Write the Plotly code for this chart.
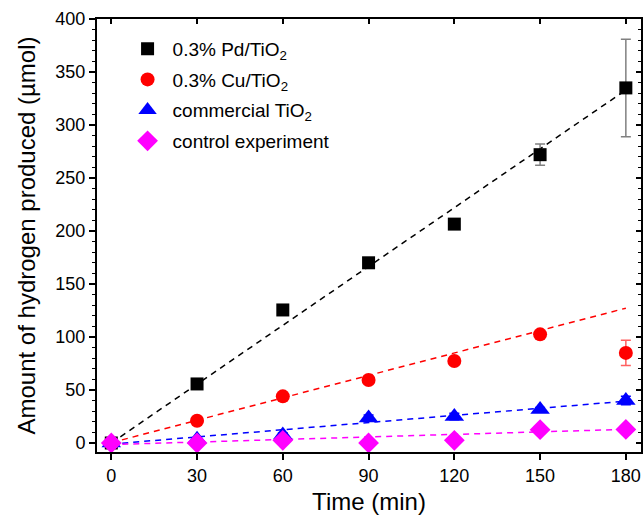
import plotly.graph_objects as go

time_min = [0, 30, 60, 90, 120, 150, 180]

series_names = ["0.3% Pd/TiO<sub>2</sub>", "0.3% Cu/TiO<sub>2</sub>",
                "commercial TiO<sub>2</sub>", "control experiment"]

pd_tio2 = [0, 55.7, 125.5, 170, 206.5, 272, 335]
pd_err = [1, 4, 2, 2, 2, 10, 46]

cu_tio2 = [0, 21, 44, 59.4, 77.4, 102.5, 85]
cu_err = [1, 2, 1, 1, 2, 2, 12]

comm_tio2 = [0, 3.5, 7.5, 23.5, 25, 31.5, 40]
comm_err = [1, 1, 2, 3, 3, 2, 4]

control = [0, 0, 2.5, 0, 2.5, 12.6, 12.8]
control_err = [1, 1, 1, 1, 1, 1, 1]

# linear fit parameters (slope, intercept)
fit_slope = [1.85, 0.705, 0.225, 0.08]
fit_intercept = [0.0, 0.3, -1.0, -1.5]

colors = ["#000000", "#ff0000", "#0000ff", "#ff00ff"]
err_colors = ["#808080", "#ff6060", "#0000ff", "#ff00ff"]
symbols = ["square", "circle", "triangle-up", "diamond"]
sizes = [13, 14, 17, 16]

values = [pd_tio2, cu_tio2, comm_tio2, control]
errors = [pd_err, cu_err, comm_err, control_err]

fig = go.Figure()

# dashed fit lines
for i in range(4):
    xs = [time_min[0], time_min[-1]]
    ys = [fit_slope[i] * x + fit_intercept[i] for x in xs]
    fig.add_trace(go.Scatter(x=xs, y=ys, mode="lines", showlegend=False,
                             line=dict(color=colors[i], width=1.5, dash="6px,5px"),
                             hoverinfo="skip"))

for i in range(4):
    fig.add_trace(go.Scatter(
        x=time_min, y=values[i], mode="markers", name=series_names[i],
        legendgroup="g%d" % i,
        marker=dict(symbol=symbols[i], size=sizes[i], color=colors[i],
                    line=dict(width=0)),
        error_y=dict(type="data", array=errors[i], visible=True,
                     color=err_colors[i], thickness=1.5, width=5),
    ))

# invisible trace for overlay (top/right) axes
fig.add_trace(go.Scatter(x=[time_min[0]], y=[0], xaxis="x2", yaxis="y2",
                         mode="markers", marker=dict(opacity=0),
                         showlegend=False, hoverinfo="skip"))

font_family = "Liberation Sans, Arial, sans-serif"
axis_color = "#000000"

fig.update_layout(
    width=644, height=515,
    margin=dict(l=97, r=3, t=19, b=63),
    plot_bgcolor="white", paper_bgcolor="white",
    font=dict(family=font_family, size=18, color="black"),
    showlegend=True,
    legend=dict(x=0.047, y=0.975, xanchor="left", yanchor="top",
                bgcolor="rgba(0,0,0,0)", font=dict(size=19),
                itemsizing="trace", tracegroupgap=3, itemwidth=40),
    xaxis=dict(range=[-5, 185.3], tickvals=time_min, ticks="outside",
               ticklen=6, tickwidth=1.5, tickcolor=axis_color,
               showline=True, linecolor=axis_color, linewidth=2,
               showgrid=False, zeroline=False, automargin=False,
               tickfont=dict(size=18),
               title=dict(text="Time (min)", font=dict(size=24), standoff=17)),
    yaxis=dict(range=[-8.5, 400], dtick=50, ticks="outside",
               ticklen=6, tickwidth=1.5, tickcolor=axis_color,
               minor=dict(dtick=10, ticks="outside", ticklen=3,
                          tickcolor=axis_color, tickwidth=1),
               showline=True, linecolor=axis_color, linewidth=2,
               showgrid=False, zeroline=False, automargin=False,
               tickfont=dict(size=18),
               title=dict(text="Amount of hydrogen produced (µmol)",
                          font=dict(size=24), standoff=13)),
    xaxis2=dict(overlaying="x", side="top", anchor="y2", matches="x",
                range=[-5, 185.3], tickvals=time_min, ticks="inside",
                ticklen=5, tickwidth=1.5, tickcolor=axis_color,
                showticklabels=False, showline=True, linecolor=axis_color,
                linewidth=2, showgrid=False, zeroline=False),
    yaxis2=dict(overlaying="y", side="right", anchor="x2",
                range=[-8.5, 400], dtick=50, ticks="inside",
                ticklen=5, tickwidth=1.5, tickcolor=axis_color,
                minor=dict(dtick=10, ticks="inside", ticklen=3,
                           tickcolor=axis_color, tickwidth=1),
                showticklabels=False, showline=True, linecolor=axis_color,
                linewidth=2, showgrid=False, zeroline=False),
)

fig.write_html("out.html")
